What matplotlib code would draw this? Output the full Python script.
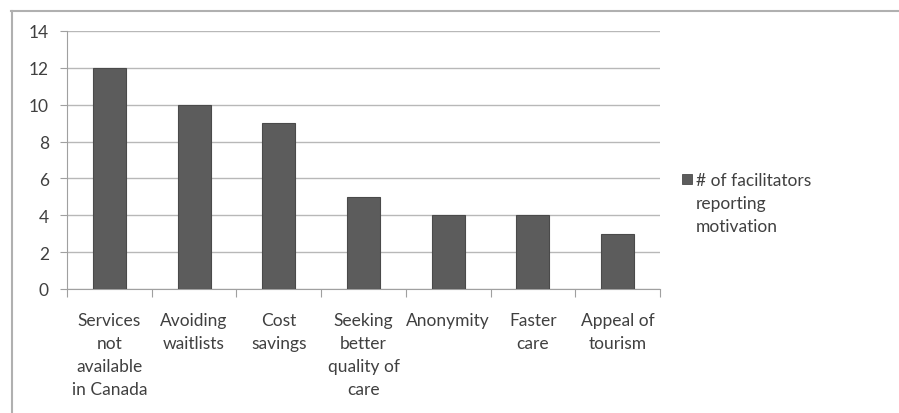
import matplotlib
matplotlib.use("Agg")
import matplotlib.pyplot as plt
from matplotlib.lines import Line2D
from matplotlib.patches import Rectangle
import numpy as np

categories = ["Services\nnot\navailable\nin Canada", "Avoiding\nwaitlists", "Cost\nsavings",
              "Seeking\nbetter\nquality of\ncare", "Anonymity", "Faster\ncare", "Appeal of\ntourism"]
values = [12, 10, 9, 5, 4, 4, 3]
yticks = [0, 2, 4, 6, 8, 10, 12, 14]
legend_label = "# of facilitators\nreporting\nmotivation"

plt.rcParams['font.family'] = ['Lato', 'DejaVu Sans']
W, H = 899, 414
fig = plt.figure(figsize=(W/100, H/100), dpi=100)
ax = fig.add_axes([67/W, 1-290/H, (660-67)/W, (290-32)/H])

FS = 12.5
x = np.arange(len(categories))
bar_color = '#5c5c5c'
ax.bar(x, values, width=0.39, color=bar_color, edgecolor='#4a4a4a', linewidth=0.8, zorder=3)
ax.set_xlim(-0.5, len(categories)-0.5)
ax.set_ylim(0, 14)
ax.set_yticks(yticks)
ax.set_yticklabels([str(v) for v in yticks], fontsize=FS, color='#404040')
ax.yaxis.grid(True, color='#b8b8b8', linewidth=1.0, zorder=0)
ax.set_axisbelow(True)
for s in ['top', 'right']:
    ax.spines[s].set_visible(False)
ax.spines['left'].set_color('#a0a0a0')
ax.spines['bottom'].set_color('#a0a0a0')
ax.tick_params(axis='y', length=5, color='#a0a0a0', pad=8)
ax.set_xticks(np.arange(len(categories)+1)-0.5)
ax.set_xticklabels([])
ax.tick_params(axis='x', length=6, color='#a0a0a0')
ax.set_xticks(x, minor=True)
ax.set_xticklabels(categories, minor=True, fontsize=FS, color='#404040', linespacing=1.55)
ax.tick_params(axis='x', which='minor', length=0, pad=16.5)
for lbl in ax.get_xticklabels(minor=True):
    lbl.set_verticalalignment('top')

# legend
fig.patches.append(Rectangle((682/W, 1-185/H), 10/W, 10/H, transform=fig.transFigure,
                             facecolor=bar_color, edgecolor='#4a4a4a', linewidth=0.6))
fig.text(696/W, 1-173/H, legend_label, fontsize=FS, color='#404040', va='top', ha='left',
         linespacing=1.55)

# outer chart frame
fig.add_artist(Line2D([11/W, 1], [1-11.5/H, 1-11.5/H], color='#b0b0b0', linewidth=1.5))
fig.add_artist(Line2D([11.5/W, 11.5/W], [0, 1-11.5/H], color='#b0b0b0', linewidth=1.5))

fig.savefig("out.png", dpi=100)
